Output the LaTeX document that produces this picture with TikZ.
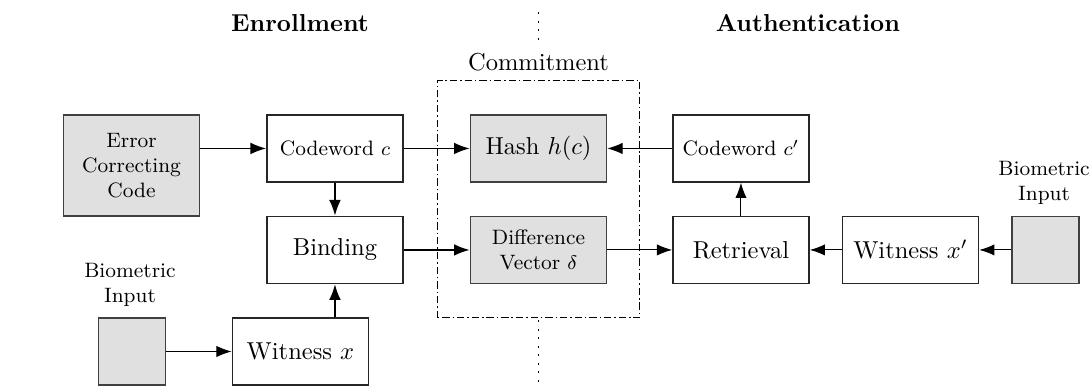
\documentclass[tikz,border=0pt]{standalone}
\usepackage{tikz}
\usetikzlibrary{arrows.meta,calc}
\usepackage{amssymb}
\usepackage{amsmath}

\begin{document}
\begin{tikzpicture}[
  box/.style={draw=black!85,line width=0.7pt,minimum width=1.95cm,minimum height=0.96cm,align=center,inner sep=1pt},
  greybox/.style={box,fill=black!12,draw=black!75},
  smalltxt/.style={font=\fontsize{8.5}{10.2}\selectfont},
  link/.style={line width=0.65pt,-{Latex[length=6.4pt,width=4.8pt]}},
  thinlink/.style={line width=0.4pt,-{Latex[length=6.2pt,width=4.6pt]}}
]
\useasboundingbox (0,0) rectangle (15.653,5.552);

% headings and separator
\node[font=\bfseries] (enrol) at (4.304,5.222) {Enrollment};
\node[font=\bfseries] (auth) at (11.592,5.222) {Authentication};
\draw[line width=0.6pt,dash pattern=on 0.8pt off 2.7pt] (7.726,5.38) -- (7.726,4.978);
\draw[line width=0.6pt,dash pattern=on 0.8pt off 2.7pt] (7.726,0.961) -- (7.726,0);

% commitment
\draw[line width=0.4pt,dash pattern=on 3pt off 1.2pt on 0.6pt off 1.2pt] (6.270,0.990) rectangle (9.182,4.390);
\node (commit) at (7.726,4.655) {Commitment};

% enrollment side
\node[greybox,smalltxt,minimum height=1.449cm] (ecc) at (1.887,3.178) {Error\\Correcting\\Code};
\node[box,smalltxt] (cwc) at (4.806,3.422) {Codeword $c$};
\node[box] (bind) at (4.806,1.966) {Binding};
\node[box] (witx) at (4.311,0.509) {Witness $x$};
\node[greybox,minimum width=0.961cm] (biol) at (1.894,0.509) {};
\node[smalltxt,align=center] (biollbl) at (1.865,1.47) {Biometric\\Input};

% stored data
\node[greybox] (hash) at (7.726,3.422) {Hash $h(c)$};
\node[greybox,smalltxt] (diff) at (7.726,1.966) {Difference\\Vector $\delta$};

% authentication side
\node[box,smalltxt] (cwp) at (10.631,3.422) {Codeword $c'$};
\node[box] (retr) at (10.631,1.966) {Retrieval};
\node[box] (witp) at (13.063,1.966) {Witness $x'$};
\node[greybox,minimum width=0.961cm] (bior) at (15.0,1.966) {};
\node[smalltxt,align=center] (biorlbl) at (14.98,2.934) {Biometric\\Input};

% connections
\draw[link] (ecc.east |- cwc.west) -- (cwc.west);
\draw[link] (cwc) -- (hash);
\draw[link] (cwc) -- (bind);
\draw[link] (bind) -- (diff);
\draw[link] (witx.north -| bind.south) -- (bind.south);
\draw[thinlink] (biol) -- (witx);
\draw[thinlink] (diff) -- (retr);
\draw[thinlink] (retr) -- (cwp);
\draw[thinlink] (cwp) -- (hash);
\draw[thinlink] (witp) -- (retr);
\draw[thinlink] (bior) -- (witp);
\end{tikzpicture}
\end{document}
